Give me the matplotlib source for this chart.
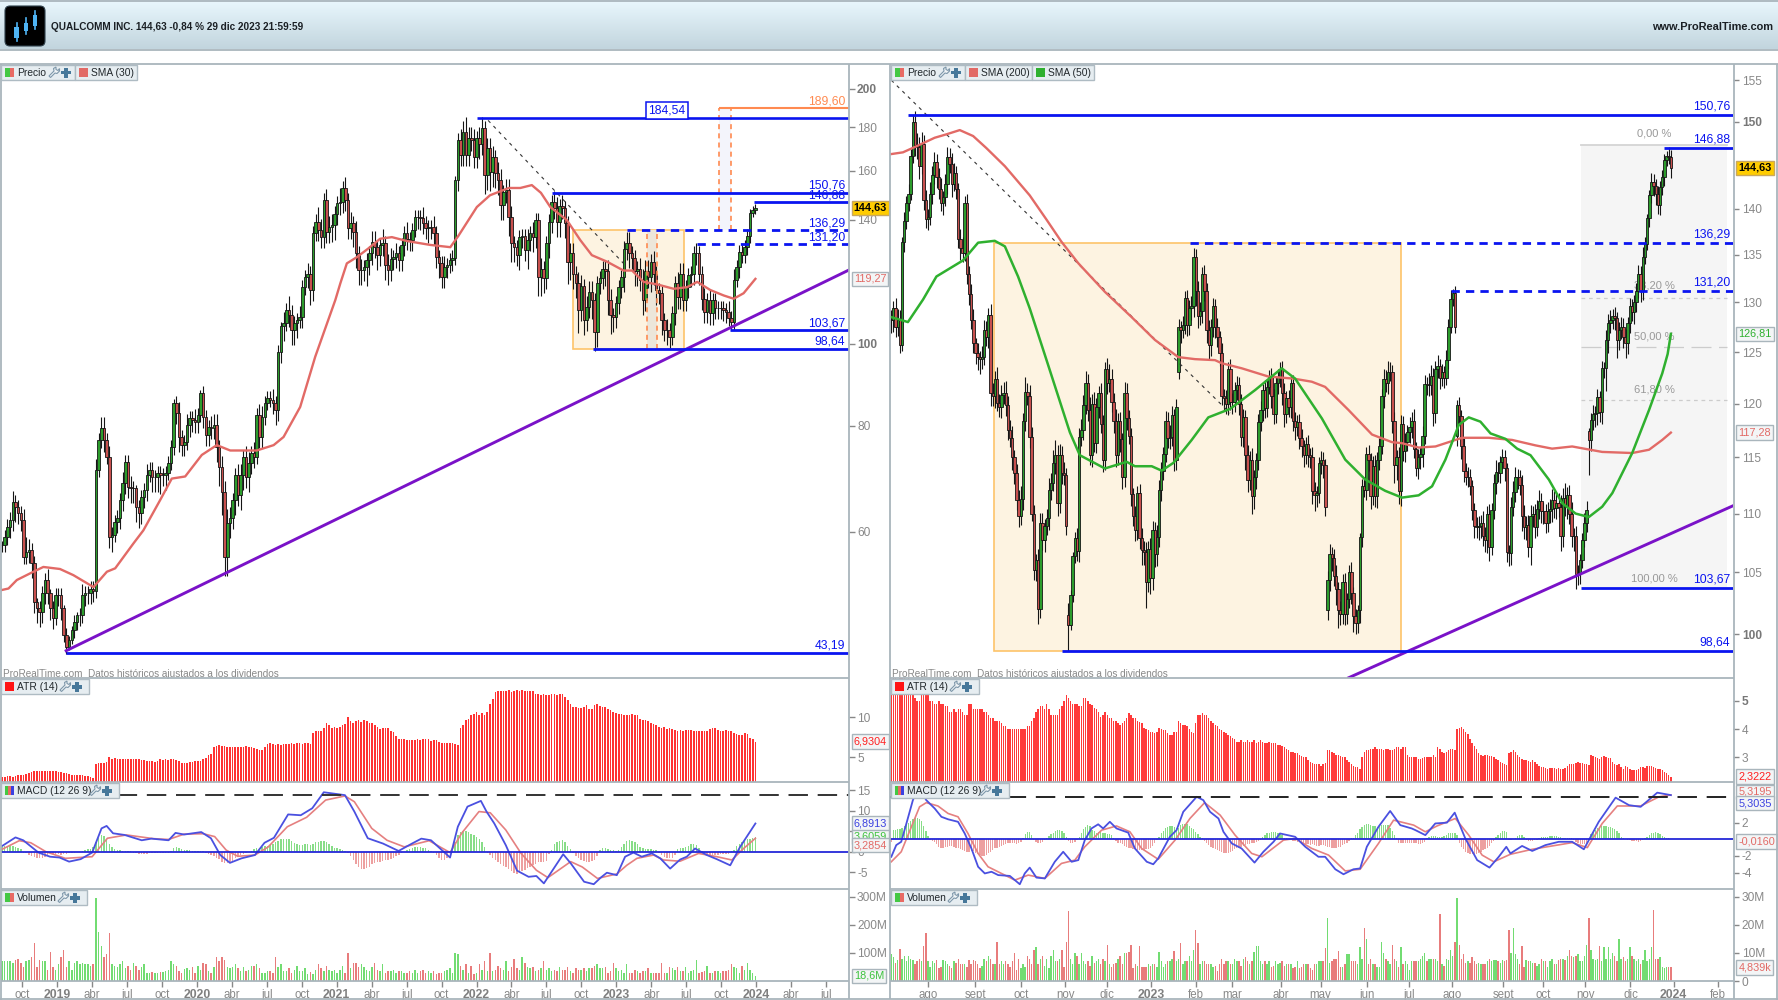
#!/usr/bin/env python

import matplotlib
matplotlib.use("Agg")
import numpy as np
import matplotlib.pyplot as plt
from matplotlib.patches import Rectangle, FancyBboxPatch, Polygon
from matplotlib.ticker import NullLocator

plt.rcParams["font.family"] = ["Liberation Sans", "DejaVu Sans"]

WIDTH, HEIGHT = 1778, 1000

# Weekly candles of the long term chart: closes, wicks in percent
left_close = [
    57.9,59.1,60.8,62,65,64.1,63.1,62,56,56.8,
    57.1,55.1,49.6,48.7,48.2,50.8,52.6,50.8,48.7,47.5,
    50.5,50.5,48.7,45.3,43.9,44.7,45.9,46.9,47.8,47.8,
    50.5,50.8,50.8,51.4,51.1,71,76.9,79.5,76.9,73.5,
    59.1,59.5,61.6,62.3,65.4,68.5,72.5,67.7,67.5,67.5,
    64.1,63.1,65.9,67.2,70,71,69.6,69.6,70.4,70,
    70,70.4,72.3,75.5,85.1,82.8,77.6,75.9,76.5,80.1,
    81.7,81.2,80.8,82.4,87.4,81.9,78,79.7,79.5,80.1,
    75.5,71.5,66.8,56,61.4,62.3,65.4,70,66.3,70,
    73.5,69.6,72.3,74.3,73.5,82.4,77.6,81.9,85.1,86.3,
    85.8,85.1,83.5,97.7,105,105.7,109.6,108,103.8,105.7,
    106.6,107.5,116.6,119.9,121,115.7,135,139.3,136.2,133.6,
    147.7,135.4,137.2,138,142.4,146.4,147,152.6,147.7,136.9,
    138.9,135.4,127.8,122.1,122.1,123.2,125.5,127.8,131.9,130,
    127.2,130.8,131.5,123.8,122.1,126,126.5,127.8,125.5,130.8,
    135,133,132.5,136.2,141,141,140.6,138.9,136.9,137.2,
    137.2,135,126.5,124.5,119.9,123.2,123.8,125.5,126.4,156,
    173.9,167,178,167,175,173.9,166,175,172,179.6,
    158,170,159.4,166,159,156,145.8,151,152,141,
    131.5,130,127.2,133.6,134,129,132.5,135,133.6,139.9,
    119.9,122.6,119.6,131.5,139.3,147,144.6,139.3,145.3,144.6,
    138.9,125,127.8,121,118,109.6,117,106.6,110.5,115,
    112.6,103.2,118,119.6,122.6,122,112.6,108,107.5,111.7,
    116.6,119.9,129.5,131.5,127.8,126.4,122,122.6,118.9,112.6,
    122,119.9,125,121,115.7,114.8,106.6,103.8,103.8,101.8,
    108.6,118,113.4,121,112.6,116.6,120.4,121,127.8,127.8,
    121,113,109,112.6,108.6,112.6,110.2,110.2,110.2,109.6,
    109,107.2,106,118.9,123.2,128.3,127.2,130,134,142.6,
    143.8,144.63]
left_wick_up = [
    1,2,2,2,3,2,2,2,3,4, 3,2,2,1,2,2,2,3,1,2, 2,2,2,1,2,1,1,2,1,2,
    3,2,2,2,2,3,2,3,3,2, 3,2,2,2,2,3,2,2,3,2, 1,2,2,2,3,2,2,2,2,2,
    2,2,2,2,1,2,3,2,2,3, 2,2,3,2,1,2,2,2,3,3, 3,2,3,3,4,3,2,2,3,3,
    2,3,3,2,3,2,3,3,2,2, 2,3,2,2,1,3,2,4,3,2, 2,3,2,2,3,2,2,2,4,3,
    2,3,3,3,2,2,4,2,3,2, 3,2,3,2,3,2,2,2,3,3, 2,2,4,2,3,3,2,3,2,2,
    2,3,2,2,2,2,2,3,2,2, 2,3,2,2,2,3,2,2,2,1, 2,3,3,4,3,3,3,2,3,3,
    2,3,3,3,2,3,3,2,3,3, 3,2,2,2,2,2,3,2,3,2, 2,3,2,2,2,2,3,3,2,3,
    2,2,3,3,2,3,3,2,3,3, 3,2,2,2,2,2,3,3,2,2, 2,2,2,3,3,2,2,2,3,3,
    3,3,2,3,2,2,2,2,3,2, 2,2,3,3,3,2,2,2,2,3, 2,2,3,2,3,2,2,2,2,2,
    2,3,2,3,2,2,2,2,2,1, 1,1]
left_wick_dn = [
    2,2,2,3,3,4,3,3,2,2, 3,4,3,4,4,3,3,3,3,3, 2,3,3,2,2,1,1,2,2,3,
    2,3,3,3,3,2,2,2,3,2, 3,4,2,3,3,3,3,3,4,4, 4,4,3,3,3,2,4,4,4,5,
    3,4,2,2,2,3,4,3,3,2, 3,3,3,3,2,3,3,3,3,3, 4,5,6,5,5,4,3,4,3,4,
    4,3,4,3,3,2,3,3,2,2, 2,3,4,3,3,4,2,3,4,4, 4,2,3,2,3,4,3,2,3,3,
    3,3,3,4,4,3,3,3,3,3, 3,4,4,4,4,3,5,4,3,3, 4,3,3,4,4,3,3,3,3,3,
    3,3,3,3,2,3,3,3,3,4, 3,3,3,4,3,3,3,2,3,2, 3,3,3,3,3,3,3,3,4,3,
    5,4,5,4,4,4,4,4,3,5, 5,4,3,4,3,3,5,3,4,3, 5,5,4,3,4,3,3,4,4,3,
    4,6,5,4,4,6,3,4,3,3, 5,5,4,3,3,4,4,5,4,3, 3,3,4,3,4,3,4,4,3,4,
    3,3,4,3,4,3,4,3,4,3, 2,3,3,3,3,3,3,3,3,3, 3,3,3,3,3,3,3,3,3,3,
    3,2,2,2,2,3,2,2,2,2, 1,1]

# Daily candles of the short term chart: closes, wicks in tenths of a percent
right_close = [
    128.2,129.4,127.5,128.2,125.7,136.4,138.7,140.6,141.7,146,
    149.9,147.2,147,144.8,147.4,141,138.9,139.1,141.7,143.8,
    145.3,143.6,142.2,140.6,141.3,142.8,145.9,145,142.8,144,
    142.2,136.7,135.7,135.2,140.7,133,130.9,128.2,125.9,124.9,
    124.5,124.3,124.5,127.2,126.5,128.7,121,120.7,122.4,120.1,
    119.7,120.8,121,119.9,117.5,116.8,115,113.6,111.2,109.8,
    111.3,118.4,121.1,120.7,116.9,110,105.2,106,102,109.2,
    107.7,108.9,109.6,112.1,112.7,114.5,115.2,110.9,115.2,113.6,
    113.4,108.9,100.7,103.1,106.4,107.9,106.8,116.9,117.5,119.9,
    122,119.4,115.2,120,116.3,119.7,121,118.1,114.8,123.3,
    122,122.4,120.2,118.4,115.2,118.4,116.7,113.2,121,118.6,
    117,111.7,109.8,108.6,111.8,107.9,106.9,106.7,104.2,107,
    104.5,108.6,106.5,108,112.1,113.8,115.3,118.4,116.8,116.9,
    118.9,114.8,119.7,127.5,127.2,127.7,130.5,127.7,129.4,129.6,
    134.8,131.2,128.6,129.1,133,131.2,127.2,125.7,127.5,129.6,
    127.5,126.5,124.9,120.7,120.5,120,123.3,120.2,120.2,121.3,
    121.8,120,116.9,118.7,115.2,113,114.8,111.5,113.2,114.8,
    118.3,119.4,121.3,119.6,121.6,122.6,120.7,119,122,122.6,
    123.3,121,119,120.5,119.7,122,118.4,117.8,118.3,116.8,
    116,115.2,116.2,115.2,115,112,111.6,111.8,114.5,114.8,
    114.3,110.6,104.4,106.5,106.2,104.7,103.6,101.9,101.6,104.2,
    101.6,102.8,105,103.3,101.4,100.9,101.9,108,112.4,112.1,
    115.3,114.8,111.5,114.2,111.5,114.8,116,120.7,122.4,122,
    123,123,118.4,114.3,115,112,118.1,115.6,116.4,117.3,
    117.8,118.4,115.8,114,115,115.3,117,121.9,121.8,121.8,
    122.7,119.1,123.3,123.6,122.5,123,122.5,124.2,127.5,130.4,
    131,127.5,119.9,118.8,116,113.8,113.2,113.2,112.4,110.3,
    108.9,108.8,108.9,109.2,108.1,107.7,110,107.1,110.3,112.7,
    113.7,113.6,114.6,115,114,106.7,106.6,110.6,111.9,113.2,
    113.2,112.5,109.8,108.8,109,107.1,109.8,110,108.8,110.4,
    111.1,110.2,110.2,109.2,110.2,110.4,111.2,110.5,110.9,110.6,
    108.1,111.4,110.6,111.6,110,108.1,108.1,104.9,104.9,106,
    107.7,109.2,110.3,116.6,118.5,119,119.1,120.6,119.2,123.4,
    123.4,126.2,127.9,128.2,128.6,128.4,126.2,127.2,127.5,126.5,
    125.9,127.9,129.6,129,130.1,131.2,133,131.2,134.8,136.2,
    139,141.5,143,142.6,141.7,140.4,142.4,143.6,145.5,146,
    145.9,144.63]
right_wick_up = [
    8,6,8,9,8,4,7,6,8,5, 6,9,10,8,9,7,8,6,9,7, 8,6,7,9,5,8,8,7,9,8,
    6,5,8,9,5,7,6,8,9,4, 8,5,9,8,7,6,9,8,6,9, 7,8,9,10,7,8,9,6,7,8,
    10,6,12,7,9,8,7,5,9,8, 8,6,7,9,8,10,12,8,9,7, 9,6,10,4,3,5,8,7,9,8,
    9,7,10,8,9,7,6,8,7,6, 9,12,8,7,9,6,7,5,9,8, 7,6,5,8,6,7,8,7,8,6,
    8,7,6,9,8,7,6,8,7,9, 7,5,6,6,5,7,5,6,7,8, 7,6,8,7,5,7,6,8,6,7,
    6,7,5,8,6,7,6,8,7,6, 7,6,8,7,6,8,7,9,6,5, 6,7,5,8,6,5,7,6,5,6,
    6,7,8,6,7,5,6,7,5,6, 7,5,6,7,6,8,7,6,5,7, 6,5,7,8,6,7,9,6,7,6,
    7,5,6,8,5,6,4,3,6,7, 6,7,5,8,9,6,7,6,8,7, 9,8,6,7,6,8,7,6,7,6,
    8,7,9,5,7,6,8,7,5,9, 8,6,7,9,6,7,5,8,6,7, 3,5,4,6,5,7,6,8,7,5,
    6,7,8,6,9,7,6,8,6,7, 9,8,5,7,6,4,6,8,9,8, 7,6,8,9,7,8,9,6,8,7,
    9,6,7,6,7,8,9,7,8,8, 9,8,12,7,8,9,6,8,7,5, 6,8,7,3,5,7,6,7,5,6,
    5,8,7,8,6,7,5,6,8,7, 6,5,7,6,5,6,7,6,8,5, 3,4,7,6,5,6,5,5,5,4,
    7,5]
right_wick_dn = [
    10,9,8,7,6,5,8,7,6,5, 6,8,9,10,6,8,7,9,6,8, 7,9,8,6,9,7,8,7,10,6,
    8,7,9,7,6,8,9,7,8,9, 10,12,8,6,7,9,10,8,9,7, 8,9,7,9,8,7,10,9,8,9,
    7,9,8,7,9,6,8,9,12,7, 8,9,7,9,8,6,9,10,8,9, 8,7,20,4,5,6,8,9,7,8,
    7,9,8,9,7,8,9,7,10,8, 9,7,8,10,9,8,10,9,8,9, 7,9,8,9,8,9,12,10,20,8,
    12,9,10,9,8,9,7,6,8,9, 7,9,8,5,10,6,7,9,8,9, 8,12,9,7,9,8,10,12,9,8,
    9,8,10,7,9,8,9,7,10,8, 8,9,7,8,12,10,8,14,10,9, 8,7,9,8,7,6,9,8,7,9,
    8,9,10,7,8,9,8,10,7,9, 8,9,7,9,8,10,12,9,8,9, 10,7,8,9,10,8,12,14,9,8,
    9,8,7,9,12,9,8,10,8,6, 8,9,10,7,8,9,8,6,9,7, 9,7,10,14,12,10,12,8,9,7,
    8,9,7,6,8,9,10,7,8,9, 8,10,8,7,9,7,8,6,7,5, 6,5,8,7,10,9,6,8,7,8,
    9,8,10,9,8,9,10,11,6,7, 9,7,8,6,10,8,10,9,7,8, 9,8,12,9,10,8,14,9,8,7,
    8,9,10,8,7,9,10,8,9,8, 12,9,7,10,8,9,12,12,9,8, 6,5,7,27,9,8,10,9,8,9,
    8,18,10,8,7,9,14,8,7,9, 12,9,8,7,9,8,6,9,7,6, 5,7,6,8,9,7,8,6,7,5,
    6,8]
# Sessions that opened away from the previous close
right_gap_bars = [82, 133, 202, 262, 323]
right_gap_opens = [101.5, 123.0, 101.9, 117.0, 117.4]

# Moving averages
sma30_x = [0,2.4,5.5,11.7,15.4,21.6,26.6,34.1,39.1,42.2,49,52.7,59,63.3,68.3,74.5,80.1,85.1,95,101.3,
           105,111.2,116.8,124.3,126.2,128.6,132.3,136.7,141,145.4,151,159.7,167.2,170.3,177.1,182,
           189,193.3,197.6,201,204.5,210.7,215.7,220,225.6,231.8,235,239.3,244.3,250.5,255.5,259.3,
           264.2,269.2,272.9,276.6,281]
sma30_y = [51.2,51.4,52.6,53.8,54.5,54.2,53.3,51.6,53.8,54.3,58.1,60.2,65.4,69.3,69.7,73.9,75.9,74.8,74.8,75.9,
           77.6,84.2,96.5,112.6,117.9,124.4,126.5,129.6,133,133.6,132.2,130.8,130,134.2,145,149.7,
           152.7,152.7,153.9,150.7,145,139.9,132.5,127.2,125,122,122,118.3,117.5,116.1,116.6,118.3,
           115.7,114,113,114.7,119.27]
sma200_x = [0,5.4,11.6,20.1,25.5,31.7,37.9,44,52.6,64.1,71.9,78.8,86.6,98.9,111.3,122.1,132.9,140.6,149.9,
            153,162.3,174.6,186.2,194.7,200.9,211.7,222.6,231.8,236.5,244.2,252,264.3,276.7,287.5,298.3,
            306,315.3,329.2,343.1,350.9,357,361]
sma200_y = [146.2,146.4,147.1,148.1,148.5,149,148.3,146.9,144.8,141.5,138.8,136.4,134.1,131.1,128.5,126.2,124.5,124.3,124.2,
            123.9,123.4,122.6,122.4,122.1,121.6,119.4,117.1,116.4,116.3,115.9,116,116.8,116.8,116.6,116.1,
            115.8,116,115.5,115.4,115.7,116.6,117.28]
sma50_x = [0,7.7,14.7,20.9,33.2,40.2,47.9,52.6,58.7,64.1,71.9,77.3,82.7,87.3,98.9,109,112.8,120.6,125.2,130.6,139.1,
           146.8,156.9,168.5,180.8,187,199.4,210.2,219.5,228.7,236.5,244.2,250.4,256.6,262.8,267.4,272.8,277.5,
           284.4,289.8,296,304.5,310.7,316.9,323,329.2,333.9,343.1,350.9,357,359.5,361]
sma50_y = [128.5,128,130.3,132.7,134.4,136.3,136.5,135.9,132.7,129.4,124.2,120.7,117.3,115.2,114,114.6,114.2,114.2,113.8,114.5,116.6,
           118.7,119.5,121.3,123.4,122.4,118.6,114.8,113,112,111.4,111.6,112.4,114.8,118,118.7,118.3,117.2,
           116.7,115.8,115.2,113,110.9,110,109.7,110.6,111.8,115.4,119.4,122.9,124.8,126.81]

# ATR (14)
left_atr = [
    2.5,2.5,2.6,2.6,2.5,2.6,2.7,2.8,2.8,2.9, 3.0,3.1,3.2,3.3,3.2,3.3,3.3,3.2,3.3,3.2,
    3.2,3.1,3.1,3.0,3.0,2.9,2.7,2.7,2.7,2.7, 2.7,2.6,2.6,2.5,2.4,4.1,4.2,4.3,4.3,4.4,
    5.0,4.8,4.9,4.8,4.8,4.8,4.8,4.8,4.7,4.8, 4.7,4.8,4.6,4.6,4.5,4.5,4.5,4.4,4.5,4.7,
    4.6,4.7,4.6,4.7,4.7,4.6,4.5,4.3,4.2,4.3, 4.4,4.4,4.5,4.5,4.5,4.8,4.9,5.3,5.4,6.3,
    6.4,6.5,6.4,6.4,6.2,6.2,6.2,6.2,6.2,6.2, 6.3,6.4,6.3,6.3,6.1,6.0,5.9,5.9,6.3,6.6,
    6.7,6.6,6.5,6.6,6.5,6.6,6.6,6.6,6.7,6.6, 6.7,6.7,6.6,6.8,6.7,6.6,8.0,8.3,8.3,8.3,
    8.6,9.2,9.0,8.6,8.7,8.6,8.8,9.0,9.1,10.0, 9.5,9.3,9.5,9.6,9.4,9.6,9.5,9.3,9.2,9.0,
    8.7,8.5,8.6,8.6,8.6,8.3,8.1,7.6,7.3,7.3, 7.2,7.1,7.1,7.1,7.1,7.2,7.1,7.3,7.2,7.2,
    7.0,7.1,7.1,6.9,6.8,6.7,6.8,6.7,6.7,6.6, 6.5,8.6,9.0,9.6,9.8,10.2,10.4,10.6,10.2,10.5,
    10.3,10.6,11.6,12.3,13.1,13.3,13.2,13.3,13.2,13.4, 13.1,13.3,13.4,13.2,13.4,13.3,13.3,13.3,13.2,12.9,
    12.9,12.8,12.9,12.7,12.8,12.9,12.9,12.8,12.9,12.9, 12.5,12.1,11.6,11.3,11.2,11.1,11.1,11.2,11.5,11.0,
    11.0,11.5,11.6,11.4,11.2,11.3,11.0,10.9,10.6,10.5, 10.4,10.4,10.3,10.3,10.3,10.4,10.2,10.2,9.8,9.6,
    9.6,9.5,9.3,9.1,9.0,8.8,8.6,8.7,8.5,8.6, 8.5,8.4,8.3,8.4,8.3,8.4,8.4,8.4,8.3,8.3,
    8.3,8.3,8.3,8.3,8.5,8.6,8.6,8.4,8.3,8.3, 8.4,8.3,8.2,8.0,7.9,7.7,7.7,8.0,7.9,7.4,
    7.2,6.93]
right_atr = [
    5.6,5.8,5.9,5.7,6.0,5.8,5.9,5.7,5.9,5.5, 5.4,5.1,5.0,5.0,5.3,5.4,5.3,5.3,5.0,5.0,
    4.9,4.9,5.0,4.9,4.9,4.8,4.8,4.6,4.6,4.7, 4.6,4.7,4.7,4.6,4.5,4.5,4.9,4.9,4.7,4.7,
    4.7,4.7,4.7,4.6,4.6,4.5,4.4,4.4,4.3,4.3, 4.3,4.2,4.1,4.1,4.0,4.0,4.0,4.0,4.0,4.0,
    4.0,4.0,4.0,4.1,4.1,4.3,4.4,4.6,4.7,4.8, 4.8,4.7,4.9,4.7,4.5,4.5,4.5,4.5,4.7,4.8,
    5.0,5.2,5.1,5.0,4.9,4.9,4.9,4.8,4.8,5.1, 5.1,5.0,4.9,4.85,4.73,4.7,4.6,4.44,4.5,4.6,
    4.5,4.4,4.4,4.3,4.3,4.2,4.15,4.2,4.3,4.4, 4.55,4.5,4.4,4.4,4.3,4.25,4.2,4.05,4.0,3.95,
    3.9,3.9,3.85,3.9,4.05,4.0,3.95,3.95,3.85,3.8, 3.8,3.9,3.9,4.3,4.2,4.15,4.15,4.1,4.0,3.9,
    3.85,4.2,4.5,4.5,4.55,4.5,4.5,4.4,4.3,4.2, 4.15,4.1,4.0,3.95,3.9,3.85,3.8,3.75,3.7,3.65,
    3.55,3.55,3.6,3.55,3.55,3.6,3.55,3.55,3.6,3.5, 3.55,3.6,3.55,3.5,3.5,3.55,3.5,3.5,3.5,3.45,
    3.45,3.4,3.35,3.3,3.25,3.2,3.2,3.15,3.15,3.1, 3.05,3.0,3.0,2.9,2.85,2.8,2.75,2.75,2.75,2.7,
    2.75,2.8,3.25,3.25,3.2,3.15,3.1,3.1,3.05,3.0, 3.0,2.9,2.85,2.75,2.7,2.65,2.65,2.6,3.0,3.2,
    3.25,3.25,3.3,3.3,3.35,3.3,3.3,3.3,3.25,3.3, 3.3,3.25,3.25,3.3,3.35,3.35,3.3,3.35,3.35,3.1,
    3.0,3.02,3.0,3.0,2.95,2.95,2.96,3.0,3.0,3.02, 3.02,3.1,3.0,3.37,3.3,3.2,3.14,3.2,3.25,3.28,
    3.3,3.25,4.0,4.05,4.08,4.0,3.9,3.82,3.65,3.5, 3.4,3.3,3.15,3.08,3.05,3.1,3.1,3.04,3.05,3.0,
    2.95,2.9,2.85,2.8,2.75,2.72,3.14,3.2,3.25,3.2, 3.1,3.0,2.94,2.92,2.9,2.88,2.85,2.9,2.85,2.75,
    2.7,2.67,2.65,2.62,2.6,2.62,2.61,2.62,2.6,2.62, 2.6,2.6,2.61,2.7,2.75,2.75,2.76,2.8,2.85,2.8,
    2.8,2.75,2.75,2.73,3.1,3.05,3.0,2.96,2.95,3.0, 3.04,3.0,2.98,2.96,2.85,2.75,2.73,2.75,2.65,2.6,
    2.7,2.67,2.6,2.55,2.55,2.55,2.6,2.65,2.65,2.62, 2.7,2.7,2.7,2.65,2.62,2.58,2.58,2.55,2.49,2.45,
    2.37,2.32]

# MACD (12 26 9): histogram per bar, both lines as read points
left_hist = [
    1.2,1.3,1.4,1.4,1.3,1.2,1,.6,-.2,-.4, -.8,-1.1,-1.3,-1.5,-1.5,-1.4,-1.2,-1,-.6,-.5,
    -.5,-.6,-.7,-.6,-.5,-.4,-.3,-.2,-.1,-.1, .3,.5,.6,.7,1.2,2.5,3.4,4,3.8,3,
    2,1.2,.7,.5,.4,.3,.3,.2,.1,-.2, -.4,-.5,-.6,-.6,-.5,-.4,-.3,-.3,-.2,-.2,
    -.2,-.2,-.2,.3,.9,1.2,1,.7,.5,.4, .4,.3,.3,.3,.2,.1,-.3,-.5,-.7,-1,
    -1.4,-1.8,-2.4,-2.8,-2.8,-2.8,-2.2,-1.6,-1,-.7, -.5,-.3,-.1,.1,.6,.8,1,1.2,1.4,1.5,
    1.7,2,2.4,2.7,3,3.2,3.2,3,2.6,2.2, 1.9,1.7,1.6,1.8,1.8,1.6,1.9,2.3,2.5,2.6,
    2.7,2.4,2,1.4,1,.8,.7,.5,.3,-.3, -1,-2,-3,-3.8,-4.3,-4.3,-4,-3.6,-3,-2.7,
    -2.6,-2.4,-2.2,-2.1,-2,-1.8,-1.5,-1.1,-.7,-.4, 0,.5,.7,.9,1.1,1.2,1.2,1,.8,.5,
    .2,-.4,-.9,-1.5,-2,-2,-1.4,-.4,.3,2.5, 4,4.8,5,5,4.7,4.4,4,3.6,3.2,2.5,
    1.2,-.2,-.8,-1.4,-2,-2.6,-3,-3.4,-3.8,-4.3, -4.8,-5.1,-5.3,-5.2,-4.8,-4.4,-4,-3.6,-3.2,-2.9,
    -2.6,-2.5,-2.4,-2.2,-.6,.5,1.8,2.3,2.7,2.8, 2.5,1.5,.7,-.3,-1,-1.6,-2,-2.3,-2.4,-2.5,
    -2.3,-2,-1,.5,.8,.8,.7,.5,.4,.3, .5,1.2,2,2.6,2.8,2.7,2.3,1.8,1.2,.8,
    .7,.6,.6,.5,.4,-.3,-.8,-1.2,-1.5,-1.6, -1.4,-.9,.6,.8,.9,1.2,1.5,1.8,1.9,1.6,
    1,.2,-.4,-.7,-.8,-.8,-.7,-.7,-.6,-.6, -.6,-.5,.2,.5,1.5,2,2.4,2.6,3,3.2,
    3.4,3.61]
left_macd_x = [0,5,7.9,13.6,17.9,21.4,25,29.3,33.6,37.1,39,41.4,45.7,52.1,55.7,62.1,64.7,67.9,74.3,77.9,81.4,85,89.3,94.3,
               97.9,101.4,106.7,111.4,115.7,120,127.9,131.4,136.4,142.1,147.9,152.9,156.4,160,167.1,170,173.6,178.6,
               180.7,183.6,187.9,192.1,196.4,199.3,202.1,209.3,212.1,217.1,220.7,223.3,225.6,229.3,232.4,235.5,238.6,
               242.4,245.5,249.2,252.9,255.4,258.5,262.9,266.6,271.6,275.3,277.8,281]
left_macd_y = [1.4,3.5,2.8,-.2,-1.2,-1.4,-2.4,-1.8,-.2,5.7,6.3,4.5,4.1,2.8,3.2,2.8,4.6,4.2,4.8,3.3,-.8,-2.7,-1.6,-.8,
               2.2,3.4,9.1,8.9,10.6,14.5,13.8,9.8,3.3,2,.2,2,3.2,2.8,-1.4,6.1,11,12.4,
               9.8,6.9,1.6,-4.6,-6.1,-5.9,-7.7,-.6,-2.8,-7.3,-7.9,-6.3,-5.1,-5.7,-1.2,-.2,-1.2,
               -.4,-1.6,-4.1,-1.9,-1.2,.8,-.8,-1.8,-3.3,1.2,3.7,6.89]
left_signal_x = [0,6.4,10.7,16.4,23.6,33.6,39.3,46.4,56.4,62.1,67.9,75,79.3,83.6,87.9,94.3,99.3,106.4,113.6,120.7,127.9,131.4,
                 137.9,143.6,150,159.3,167.1,171.4,177.9,182.1,187.9,193.6,199.3,203.6,212.1,216.4,222.1,229.3,233,236.8,
                 243,246.7,252.9,259.8,266.6,272.2,276.6,281]
left_signal_y = [.6,2.7,2.2,0,-1.6,-1.2,3.3,4.1,3.2,3,4.3,4.4,3.7,.4,-1.1,-.8,1.2,6.1,8.4,12.6,13.6,12.2,
                 5.7,2.8,1.2,2.7,-.2,4.5,9.8,9.5,5.3,-.4,-4.5,-6.3,-2.4,-3.7,-6.5,-5.4,-3.3,-1.6,
                 -.8,-2,-2.3,-.4,-1.2,-2,.8,3.29]
right_hist = [
    -.3,1.1,1.1,1.2,1.2,1.4,1.6,1.8,2,2.2, 2.4,2.5,2.5,2.4,2.2,1.6,1,.4,-.1,-.2,
    -.3,-.6,-.9,-1,-1,-.9,-.9,-.8,-.8,-.9, -1,-1.1,-1.2,-1.3,-1.4,-1.5,-1.5,-1.4,-1.4,-1.6,
    -1.8,-1.9,-2,-2,-1.9,-1.7,-1.5,-1.3,-1.1,-1, -.9,-.8,-.7,-.6,-.5,-.4,-.4,-.5,-.6,-.5,
    -.3,.2,.6,.9,.9,.5,-.1,-.3,-.4,-.4, -.3,-.1,.2,.4,.6,.8,1,1.1,1.1,1,
    .8,.3,-.2,-.4,-.4,-.3,-.1,.3,.8,1.2, 1.5,1.7,1.6,1.1,1,.8,.9,1,.8,.7,
    .6,.6,.5,.2,-.2,-.4,-.5,-.6,-.8,-.9, -1,-1.1,-1.2,-1.2,-1.3,-1.3,-1.3,-1.3,-1.2,-1.2,
    -1,-.8,-.4,-.1,.3,.7,1,1.3,1.5,1.6, 1.6,1.5,1.3,1.4,1.7,1.8,1.8,1.8,1.6,1.4,
    1.2,.9,.6,.3,.1,-.2,-.5,-.7,-.9,-1, -1.2,-1.3,-1.4,-1.5,-1.7,-1.7,-1.6,-1.5,-1.4,-1.2,
    -1.1,-1,-.9,-.8,-.7,-.6,-.6,-.5,-.4,-.3, -.2,-.1,.3,.5,.7,.8,.9,.9,.9,.8,
    .7,.5,.2,.1,0,-.1,-.2,-.2,-.3,-.3, -.4,-.5,-.6,-.6,-.7,-.6,-.7,-.8,-.8,-.7,
    -.7,-.8,-.9,-.9,-1,-1,-1,-.9,-.9,-.7, -.6,-.4,-.2,.1,.2,.5,.8,1.2,1.5,1.7,
    1.8,1.8,1.7,1.6,1.6,1.5,1.6,1.7,1.7,1.7, 1.7,1.4,1,.5,.1,-.4,-.5,-.5,-.4,-.4,
    -.4,-.5,-.5,-.5,-.6,-.6,-.5,-.3,.2,.3, .4,.4,.4,.3,.3,.3,.4,.5,.7,.8,
    .8,.8,.5,-.5,-.9,-1.2,-1.5,-1.7,-1.8,-1.8, -1.8,-1.8,-1.7,-1.5,-1.3,-1.2,-1,-.8,-.4,-.2,
    .3,.5,.8,1,1,.9,-.1,-.1,0,.2, .4,.5,.5,.3,-.1,-.2,-.2,-.2,-.1,-.1,
    .2,.3,.3,.3,.3,.4,.4,.4,.4,.3, .3,.2,.2,.2,.1,.1,-.1,-.3,-.5,-.6,
    -.6,-.6,-.4,-.1,.6,.9,1.1,1.4,1.5,1.6, 1.6,1.6,1.5,1.5,1.4,1.2,1,.7,.3,.1,
    0,-.1,-.1,-.2,-.2,-.2,-.3,-.2,-.1,.1, .3,.5,.7,.8,.85,.8,.6,.4,.3,.2,
    .2,-.016]
right_macd_x = [0,2.3,4.6,7,10,11.6,13.9,16.2,20.1,23.2,26.3,30.9,34,37.1,40.2,43.3,46.4,49.5,54.9,59.5,61.8,64.1,67.2,71.1,
                75.7,79.6,83.5,86.6,89.6,92.7,95.8,98.1,101.2,104.3,109.7,112.8,118.3,121.3,123.6,129,132.1,135.2,141.4,
                144.5,147.6,151.5,153.8,157.7,162.2,168.2,172.3,177,180,187,191.7,197.8,200.9,205.6,209.4,214,217.1,
                220.2,225.6,231,235.7,241,242.7,247.3,251.9,257.3,260.9,265.8,271.3,277,281.3,284.8,286.7,292.1,296.8,
                302.9,309.1,315.3,320.7,327.6,335.4,341.6,347,354.7,361]
right_macd_y = [-2.1,-.7,-.3,1.9,4.7,5.7,5.7,4.7,3.7,2.7,2.4,2.1,.7,-1.1,-3.3,-4.1,-3.9,-4.3,-4.4,-5.4,-4.1,-3.4,-4.6,-4.7,
                -2.7,-1.5,-2.7,-2.5,-.1,1.3,1.8,1.3,2.1,1.3,.8,-1.1,-2.7,-3,-2.3,.3,1.1,3.3,5.1,
                4.7,3.3,2.5,.9,-.5,-1.1,-2.8,-1.5,-.3,.7,.3,-.9,-2.1,-2.1,-3.6,-4.2,-3.6,-3.5,
                -.9,1.5,3.4,1.7,1.3,1.1,.5,1.9,2,3.2,.1,-2.5,-3.4,-2.1,-.9,-1.7,-.8,-1.4,
                -.7,-.3,-.3,-1.2,2.1,5,4.1,3.9,5.6,5.3035]
right_signal_x = [0,4.6,9.3,13.1,16.2,21.6,26.3,30.9,35.5,40.2,44.8,51,57.2,63.4,71.1,78.8,85,89.6,97.4,104.3,110.5,115.9,123.6,
                  131.4,138.3,145.1,152.3,159.2,166.9,171.6,181.6,187,194.7,202.5,210.2,217.1,225.6,232.6,241.9,247.3,252.7,
                  261.2,267.4,273.6,279,286.7,296.8,306,315.3,322.3,329.2,336.2,347,355.5,361]
right_signal_y = [-2.7,-1.5,1.5,3.9,4.4,4,3.1,2.7,.7,-1.7,-3.3,-4.1,-4.9,-4.3,-4.7,-2.9,-2.5,-.9,1.1,1.6,.9,-1.1,-2.4,
                  -.1,2.5,4.4,2.9,.5,-1.7,-2.1,-.1,.1,-1.1,-1.9,-3.8,-3.6,-.5,2.3,1.7,.9,1.6,
                  2.5,.5,-1.9,-2.7,-1.8,-1.2,-.8,-.4,-1,1.9,4,4,5.1,5.3195]

# Volume, millions of shares
left_volume = [
    70,72,70,72,65,75,80,65,50,70, 75,85,135,50,75,70,72,40,105,50,
    40,60,85,110,50,70,40,65,70,60, 65,62,60,55,60,295,175,125,85,95,
    170,60,55,50,62,70,45,55,40,65, 55,40,50,60,30,30,32,30,30,32,
    32,35,40,70,62,55,35,28,42,48, 40,50,30,55,40,65,60,35,30,50,
    85,70,85,75,50,45,50,60,45,35, 50,35,40,52,55,60,45,30,30,35,
    35,30,85,50,60,35,35,45,30,40, 55,35,35,45,25,32,25,40,60,45,
    35,55,40,35,40,30,40,55,30,100, 45,65,65,50,60,50,40,35,50,65,
    40,35,60,30,35,35,40,30,35,35, 30,30,35,30,40,30,35,40,30,35,
    30,35,25,30,30,35,40,45,30,100, 95,55,40,60,30,55,25,30,60,40,
    70,35,100,35,40,55,45,40,70,35, 50,80,45,40,85,65,50,45,50,35,
    40,45,70,40,45,35,40,35,50,40, 40,50,35,30,45,40,40,45,35,45,
    45,55,60,45,45,50,30,35,65,45, 35,40,30,60,30,30,40,35,30,35,
    35,45,30,30,30,28,63,30,30,50, 45,40,50,35,35,50,30,35,40,75,
    30,32,35,55,30,30,35,35,30,35, 35,40,60,50,45,30,55,40,65,40,
    30,18.6]
right_volume = [
    9.5,8.5,6.5,7.5,11.5,8,9,7,9,8, 7.5,6,7,8,7,12.5,17,7,5,7,
    6.5,7.5,4.5,5,7.5,7,6,5.5,4.5,7, 6.5,8,6,6,6,5,7.5,6,7.5,7,
    6,4.5,5.5,8,7,9,8,6,6,14, 6,7,6,7,6,5,7,10,4,8,
    4.5,6,5,9,8,6,11,12,6,8, 9,5.5,8,4.5,9,11,7,7,8,11,
    5,14,25,8,6,10,9,6,10,7, 6,7,5.5,9,6.5,7,8,6,8,7,
    13,6,5,6,6.5,8,9,6,10,10, 10.5,13,4.5,6,5.5,12.5,5,5,5,6,
    5.5,6,6,5,10.5,7,5,6,7,7, 8,10.8,7,8,13.7,6,7,7,9,7,
    11,18.2,13.5,6,7,7,6,6,6,5, 5.5,3.5,6,8,6,7,7,6,6,8,
    7,7,5.5,8,8.5,7,6,7,10.5,12.5, 12.5,7,6,7,6,7,5,5.5,7,6,
    6.5,7,5.5,6,6,6,4.5,5,7,4.5, 5,6,6,6,4.5,4,6,6,7,7,
    7,11.7,22.4,6.5,7,8,8,10.8,5,5, 6,9.6,9.5,7,7,7,6,12.3,8,18.8,
    15,6,8,6,6,5,5,14,10,8, 7,6,12.8,8,7,5,12.3,6,7,6,
    4,7,7,7,7,8,9,10,7,8, 8,8,8,7,24,6,5.5,8,7.5,11,
    9,14,29.5,13,8,9.5,6.5,7,6.5,8.5, 7,6,6.5,6,6,6,7,8,7,7.5,
    7.5,7,6.5,7.5,7,7.5,18.2,10,19,9.5, 8,6,12.5,5,7.5,7,7,6.5,6.5,5.5,
    6,8,7,7,5,7,8,6,6,7.5, 8,8,7.5,9,11,9,8.5,9,9.5,7,
    7,9,13,22.4,11,8,7.5,8,12.5,7, 12,8,12,8,10,9,7,15,8,8.5,
    7,8,12,9,8,7,8,6,7.5,11, 7,8,12,25.4,8,8,8.5,5,4.5,5,
    5,4.84]

# Tick labels along the time axis
left_dates = ["oct","2019","abr","jul","oct","2020","abr","jul","oct","2021","abr","jul","oct",
              "2022","abr","jul","oct","2023","abr","jul","oct","2024","abr","jul"]
right_dates = ["ago","sept","oct","nov","dic","2023","feb","mar","abr","may","jun","jul","ago",
               "sept","oct","nov","dic","2024","feb"]
right_date_bars = [16.9,38.9,60,80.6,100,120.4,141,157.8,180.4,198.8,220.4,239.8,259.8,283.4,301.8,321.3,342.3,362.3,382.8]

GREY = "#888888"
FRAME = "#a9b5bc"
LEVEL = "#0a14f0"
SMA_RED = "#e26a66"
SMA_GREEN = "#2fb02f"
PURPLE = "#7a12c8"
ORANGE = "#ff8a50"
BOX_FILL = "#fdf3e1"
BOX_EDGE = "#fdc469"
FOOTNOTE = "ProRealTime.com  Datos históricos ajustados a los dividendos"

fig = plt.figure(figsize=(WIDTH / 100, HEIGHT / 100), dpi=100, facecolor="white")


def panel(x0, y0, x1, y1):
    ax = fig.add_axes([x0 / WIDTH, 1 - y1 / HEIGHT, (x1 - x0) / WIDTH, (y1 - y0) / HEIGHT])
    for side in ax.spines.values():
        side.set_visible(False)
    ax.patch.set_alpha(0)
    ax.yaxis.tick_right()
    ax.set_xticks([])
    ax.tick_params(axis="y", colors=GREY, labelsize=8.6, length=4, width=1, pad=2)
    ax.yaxis.set_minor_locator(NullLocator())
    return ax


def set_ticks(ax, values, labels, bold=()):
    ax.set_yticks(values, labels)
    ax.yaxis.set_minor_locator(NullLocator())
    for lab in ax.get_yticklabels():
        if lab.get_text() in bold:
            lab.set_fontweight("bold")
            lab.set_color("#777777")


def candles(ax, close, up, dn, scale, width, gap_bars=(), gap_opens=()):
    close = np.array(close, dtype=float)
    opens = np.r_[close[0], close[:-1]]
    for bar, value in zip(gap_bars, gap_opens):
        opens[bar] = value
    x = np.arange(len(close))
    top = np.maximum(opens, close)
    low = np.minimum(opens, close)
    ax.vlines(x, low * (1 - np.array(dn) / scale), top * (1 + np.array(up) / scale),
              color="#151515", lw=0.8, zorder=3)
    rising = close >= opens
    colors = np.where(rising, "#2c9c2c", "#c8504e")
    ax.bar(x, top - low, bottom=low, width=width, color=colors, edgecolor="#151515", linewidth=0.6, zorder=4)
    return rising


def level(ax, start, value, text, color=LEVEL, dashed=False, lw=2.0):
    x_end = ax.get_xlim()[1]
    ax.plot([start, x_end], [value, value], color=color, lw=lw, zorder=6,
            ls=(0, (3, 2.2)) if dashed else "-", solid_capstyle="butt")
    ax.text(0.996, value * 1.002, text, transform=ax.get_yaxis_transform(), ha="right", va="bottom",
            color=color, fontsize=8.7, zorder=7)


def tag(ax, value, text, color, dy=0, face="#f3f5f6", edge=FRAME, weight="normal", dx=5):
    ax.annotate(text, xy=(1, value), xycoords=ax.get_yaxis_transform(), xytext=(dx, dy),
                textcoords="offset pixels", ha="left", va="center", color=color, fontsize=7.8, fontweight=weight,
                bbox=dict(boxstyle="square,pad=0.2", fc=face, ec=edge, lw=1), zorder=20, annotation_clip=False)


def hist_bars(ax, values, width=0.55):
    x = np.arange(len(values))
    values = np.array(values)
    colors = np.where(values >= 0, "#88dd88", "#eda0a0")
    ax.bar(x, values, width=width, color=colors, linewidth=0, zorder=2)


# Left column
L0, L1 = 1, 848.7
left_xlim = (-0.4, 315.8)
price_l = panel(L0, 64, L1, 678)
atr_l = panel(L0, 678, L1, 782)
macd_l = panel(L0, 782, L1, 889)
vol_l = panel(L0, 889, L1, 981)
# Right column
R0, R1 = 890, 1733.5
right_xlim = (-0.6, 390)
price_r = panel(R0, 64, R1, 678)
atr_r = panel(R0, 678, R1, 782)
macd_r = panel(R0, 782, R1, 889)
vol_r = panel(R0, 889, R1, 981)

for ax in (price_l, atr_l, macd_l, vol_l):
    ax.set_xlim(*left_xlim)
for ax in (price_r, atr_r, macd_r, vol_r):
    ax.set_xlim(*right_xlim)

# Long term price chart, log scale
price_l.set_yscale("log")
price_l.set_ylim(40.3, 213.9)
set_ticks(price_l, [60, 80, 100, 140, 160, 180, 200], ["60", "80", "100", "140", "160", "180", "200"], bold=("100", "200"))
price_l.add_patch(Rectangle((213.1, 98.64), 41.3, 136.29 - 98.64, fc=BOX_FILL, ec=BOX_EDGE, lw=1.2, zorder=1))
price_l.add_patch(Rectangle((267.5, 136.29), 4.3, 189.6 - 136.29, fc="#f3f4fb", ec="none", zorder=1))
price_l.add_patch(Rectangle((240.6, 98.64), 3.8, 136.29 - 98.64, fc="#ece6da", ec="none", zorder=1.5))
for x in (267.5, 271.8):
    price_l.plot([x, x], [136.29, 189.6], color=ORANGE, lw=1.2, ls=(0, (3, 2.5)), zorder=5)
for x in (240.6, 244.4):
    price_l.plot([x, x], [98.64, 136.29], color=ORANGE, lw=1.2, ls=(0, (3, 2.5)), zorder=5)
price_l.plot([181.3, 231.7], [183.5, 124.5], color="#333333", lw=0.8, ls=(0, (3, 4)), zorder=5)
left_rising = candles(price_l, left_close, left_wick_up, left_wick_dn, 100.0, 0.95)
price_l.plot(sma30_x, sma30_y, color=SMA_RED, lw=1.7, zorder=5)
price_l.plot([23.9, 315.7], [43.4, 122.1], color=PURPLE, lw=2.1, zorder=5.5)
level(price_l, 177.2, 184.54, "", lw=1.9)
level(price_l, 205.2, 150.76, "150,76")
level(price_l, 280.6, 146.88, "146,88")
level(price_l, 233.2, 136.29, "136,29", dashed=True)
level(price_l, 259.3, 131.20, "131,20", dashed=True)
level(price_l, 271.6, 103.67, "103,67")
level(price_l, 220.5, 98.64, "98,64")
level(price_l, 23.9, 43.19, "43,19")
level(price_l, 267.5, 189.60, "189,60", color=ORANGE, lw=1.5)
price_l.text(248, 184.54 * 1.004, "184,54", color=LEVEL, ha="center", va="bottom", fontsize=8.7, zorder=7,
             bbox=dict(boxstyle="square,pad=0.2", fc="white", ec=LEVEL, lw=1.1))
price_l.text(0.002, -0.001, FOOTNOTE, color=GREY, fontsize=7.2, transform=price_l.transAxes, va="bottom")
tag(price_l, 144.63, "144,63", "black", face="#ffcc00", edge="#c8a860", weight="bold")
tag(price_l, 119.27, "119,27", SMA_RED)

# Short term price chart, log scale
price_r.set_yscale("log")
price_r.set_ylim(96.58, 157.0)
set_ticks(price_r, [100, 105, 110, 115, 120, 125, 130, 135, 140, 150, 155],
          ["100", "105", "110", "115", "120", "125", "130", "135", "140", "150", "155"], bold=("100", "150"))
price_r.add_patch(Rectangle((47.4, 98.64), 188.5, 136.29 - 98.64, fc=BOX_FILL, ec=BOX_EDGE, lw=1.2, zorder=1))
price_r.add_patch(Rectangle((319.3, 103.67), 67.5, 147.3 - 103.67, fc="#f5f5f5", ec="none", zorder=1))
price_r.plot([319.3, 386.8], [147.3, 147.3], color="#d4d4d4", lw=1.3, zorder=1.5)
for value, pattern in zip((130.5, 125.5, 120.3), ((3, 3), (16, 6), (3, 3))):
    price_r.plot([319.3, 386.8], [value, value], color="#cccccc", lw=0.9, ls=(0, pattern), zorder=1.5)
for value, text in zip((148.0, 131.2, 126.0, 120.9, 104.1), ("0,00 %", "38,20 %", "50,00 %", "61,80 %", "100,00 %")):
    price_r.text(353.5, value, text, color="#999999", fontsize=8, ha="center", va="bottom", zorder=2)
price_r.plot([0, 156.9], [155.0, 119.1], color="#333333", lw=0.8, ls=(0, (3, 4)), zorder=5)
right_rising = candles(price_r, right_close, right_wick_up, right_wick_dn, 1000.0, 1.15, right_gap_bars, right_gap_opens)
price_r.plot(sma200_x, sma200_y, color=SMA_RED, lw=1.7, zorder=5)
price_r.plot(sma50_x, sma50_y, color=SMA_GREEN, lw=1.8, zorder=5)
price_r.plot([211.8, 390.0], [96.6, 110.7], color=PURPLE, lw=2.1, zorder=5.5)
level(price_r, 7.9, 150.76, "150,76")
level(price_r, 358, 146.88, "146,88")
level(price_r, 138.1, 136.29, "136,29", dashed=True)
level(price_r, 259, 131.20, "131,20", dashed=True)
level(price_r, 319.3, 103.67, "103,67")
level(price_r, 79.2, 98.64, "98,64")
price_r.text(0.002, -0.001, FOOTNOTE, color=GREY, fontsize=7.2, transform=price_r.transAxes, va="bottom")
tag(price_r, 144.63, "144,63", "black", face="#ffcc00", edge="#c8a860", weight="bold")
tag(price_r, 126.81, "126,81", SMA_GREEN)
tag(price_r, 117.28, "117,28", SMA_RED)

# ATR
atr_l.set_ylim(1.875, 14.875)
atr_l.bar(np.arange(len(left_atr)), np.array(left_atr) - 1.875, bottom=1.875, width=0.62, color="#ff3232", linewidth=0)
set_ticks(atr_l, [5, 10], ["5", "10"])
tag(atr_l, 6.9304, "6,9304", "#ff2020")
atr_r.set_ylim(2.13, 5.8)
atr_r.bar(np.arange(len(right_atr)), np.array(right_atr) - 2.13, bottom=2.13, width=0.66, color="#ff3a3a", linewidth=0)
set_ticks(atr_r, [3, 4, 5], ["3", "4", "5"], bold=("5",))
tag(atr_r, 2.3222, "2,3222", "#ff2020")

# MACD
macd_l.set_ylim(-9.07, 17)
hist_bars(macd_l, left_hist)
macd_l.plot(left_signal_x, left_signal_y, color="#e58080", lw=1.2, zorder=3)
macd_l.plot(left_macd_x, left_macd_y, color="#4a50e0", lw=1.3, zorder=4)
macd_l.axhline(0, color="#2428d8", lw=1.3, zorder=5)
macd_l.axhline(13.9, color="#333333", lw=1.4, ls=(0, (10, 5)), zorder=5)
set_ticks(macd_l, [-5, 0, 5, 10, 15], ["-5", "0", "5", "10", "15"])
tag(macd_l, 6.8913, "6,8913", "#3a40e0")
tag(macd_l, 3.6059, "3,6059", "#3cc23c")
tag(macd_l, 3.2854, "3,2854", SMA_RED, dy=-7)
macd_r.set_ylim(-5.97, 6.88)
hist_bars(macd_r, right_hist, width=0.62)
macd_r.plot(right_signal_x, right_signal_y, color="#e58080", lw=1.2, zorder=3)
macd_r.plot(right_macd_x, right_macd_y, color="#4a50e0", lw=1.3, zorder=4)
macd_r.axhline(0, color="#2428d8", lw=1.3, zorder=5)
macd_r.axhline(5.04, color="#222222", lw=1.4, ls=(0, (10, 5)), zorder=5)
set_ticks(macd_r, [-4, -2, 2], ["-4", "-2", "2"])
tag(macd_r, 5.3195, "5,3195", SMA_RED, dy=3)
tag(macd_r, 5.3035, "5,3035", "#3a40e0", dy=-8)
tag(macd_r, -0.016, "-0,0160", SMA_RED, dy=-2)

# Volume
vol_l.set_ylim(0, 328)
vol_l.bar(np.arange(len(left_volume)), left_volume, width=0.55, linewidth=0,
          color=np.where(left_rising, "#72dc72", "#e87c7c"))
set_ticks(vol_l, [100, 200, 300], ["100M", "200M", "300M"])
tag(vol_l, 18.6, "18,6M", "#3cc23c")
vol_r.set_ylim(0, 32.8)
vol_r.bar(np.arange(len(right_volume)), right_volume, width=0.66, linewidth=0,
          color=np.where(right_rising, "#72dc72", "#e87c7c"))
set_ticks(vol_r, [0, 10, 20, 30], ["0", "10M", "20M", "30M"])
tag(vol_r, 4.839, "4,839k", SMA_RED)

# Time axes under the volume panels
vol_l.set_xticks(20.5 + 13.04 * (np.arange(len(left_dates)) - 1), left_dates)
vol_r.set_xticks(right_date_bars, right_dates)
for ax in (vol_l, vol_r):
    ax.tick_params(axis="x", colors=GREY, labelsize=8.3, length=4, width=1, pad=2)
    for lab in ax.get_xticklabels():
        if lab.get_text().isdigit():
            lab.set_fontweight("bold")
            lab.set_fontsize(8.8)
            lab.set_color("#808080")

# Window furniture in pixel coordinates
chrome = fig.add_axes([0, 0, 1, 1], zorder=30)
chrome.set_axis_off()
chrome.patch.set_alpha(0)
gradient = np.linspace(0, 1, 50)[:, None]
header = np.array([0xe9, 0xf7, 0xfd])[None, None, :] * (1 - gradient[:, :, None]) + \
    np.array([0xc2, 0xd5, 0xde])[None, None, :] * gradient[:, :, None]
chrome.imshow(header / 255.0, extent=(0, WIDTH, 49, 0), aspect="auto", zorder=0)
chrome.set_xlim(0, WIDTH)
chrome.set_ylim(HEIGHT, 0)


def frame_line(x0, y0, x1, y1, color=FRAME, lw=1.3):
    chrome.plot([x0, x1], [y0, y1], color=color, lw=lw, solid_capstyle="butt", zorder=1)


frame_line(0, 49.5, WIDTH, 49.5)
frame_line(0, 0.5, WIDTH, 0.5)
frame_line(0, 64.3, WIDTH, 64.3)
frame_line(0.6, 64, 0.6, 1000)
frame_line(0, 999, WIDTH, 999)
frame_line(1777.4, 64, 1777.4, 1000)
for x0, x1 in ((L0, L1), (R0, R1)):
    for y in (678, 782, 889, 981):
        frame_line(x0, y, x1, y)
for x in (L1, R0, R1):
    frame_line(x, 64, x, 999)

# Application logo
chrome.add_patch(FancyBboxPatch((5, 6), 40, 40, boxstyle="round,pad=0,rounding_size=5", fc="black", ec="#30414c", lw=0.8, zorder=2))
for x, y0, y1, b0, b1 in ((16.5, 23, 41, 27, 38), (26, 18, 34, 23, 31), (35, 11, 29, 15, 26)):
    chrome.plot([x, x], [y0, y1], color="#4fb4f4", lw=1.2, zorder=3)
    chrome.add_patch(Rectangle((x - 2.2, b0), 4.4, b1 - b0, fc="#4fb4f4", ec="none", zorder=3))
chrome.text(51, 27.5, "QUALCOMM INC. 144,63 -0,84 % 29 dic 2023 21:59:59", fontsize=7.2, fontweight="bold",
            color="#1a1f24", va="center", ha="left")
chrome.text(1773, 27.5, "www.ProRealTime.com", fontsize=7.9, fontweight="bold", color="#1a1f24", va="center", ha="right")


def tool_icons(x, y):
    # Wrench outline followed by the add button
    chrome.add_patch(Polygon([(x, y + 9), (x + 5, y + 4), (x + 4.5, y + 1.5), (x + 7, y), (x + 7, y + 2.5), (x + 9, y + 3.5),
                              (x + 10.5, y + 1.5), (x + 10.5, y + 4), (x + 8, y + 6.5), (x + 6, y + 6), (x + 1.5, y + 10.5)],
                             closed=True, fc="#f0f4f6", ec="#7d97aa", lw=0.8, zorder=6))
    chrome.add_patch(Rectangle((x + 15, y + 1), 3.6, 9.5, fc="#47789a", ec="none", zorder=6))
    chrome.add_patch(Rectangle((x + 12, y + 3.9), 9.6, 3.6, fc="#47789a", ec="none", zorder=6))


def chip(x0, x1, y0, y1):
    chrome.add_patch(Rectangle((x0, y0), x1 - x0, y1 - y0, fc="#e6edf1", ec="#aebbc3", lw=1, zorder=4))


def swatch(x, y, colors):
    step = 9.0 / len(colors)
    for k, color in enumerate(colors):
        chrome.add_patch(Rectangle((x + k * step, y), step, 9, fc=color, ec="none", zorder=6))


def chip_text(x, y, text):
    chrome.text(x, y, text, fontsize=7.4, color="#22282c", va="center", ha="left", zorder=6)


def price_chips(x, sma_labels):
    chip(x + 1, x + 75, 65, 80)
    swatch(x + 5, 68, ["#44c844", "#e86a64"])
    chip_text(x + 17, 73, "Precio")
    tool_icons(x + 49, 67)
    left = x + 75
    for label, color, width in sma_labels:
        chip(left, left + width, 65, 80)
        swatch(left + 4, 68, [color])
        chip_text(left + 16, 73, label)
        left += width


price_chips(0, [("SMA (30)", "#e26a66", 62)])
price_chips(890, [("SMA (200)", "#e26a66", 67), ("SMA (50)", "#2fb02f", 62)])


def pane_chip(x, y, width, swatches, text):
    chip(x + 1, x + width, y, y + 15)
    swatch(x + 5, y + 3, swatches)
    chip_text(x + 17, y + 8, text)
    tool_icons(x + width - 29, y + 2)


pane_chip(0, 679, 89, ["#ff1414"], "ATR (14)")
pane_chip(890, 679, 89, ["#ff1414"], "ATR (14)")
pane_chip(0, 783, 119, ["#44c844", "#e86a64", "#3a40e0"], "MACD (12 26 9)")
pane_chip(890, 783, 119, ["#44c844", "#e86a64", "#3a40e0"], "MACD (12 26 9)")
pane_chip(0, 890, 87, ["#44c844", "#e86a64"], "Volumen")
pane_chip(890, 890, 87, ["#44c844", "#e86a64"], "Volumen")

fig.savefig("out.png", dpi=100, facecolor="white")
